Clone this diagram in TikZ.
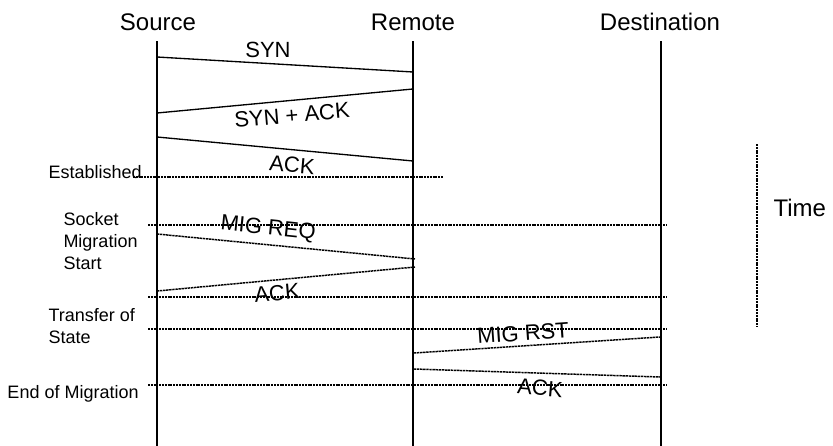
\documentclass[tikz,border=0pt]{standalone}
\usepackage{fontspec}
\setmainfont{Liberation Sans}

\tikzset{every picture/.style={line width=0.75pt}}
\tikzset{
  lifeline/.style={line width=1.5pt},
  msg/.style={line width=1pt},
  migmsg/.style={line width=1.1pt, dash pattern=on 1.8pt off 0.5pt},
  phase/.style={line width=1.5pt, dash pattern=on 1.5pt off 0.6pt},
  head/.style={font=\fontsize{18}{21}\selectfont, inner sep=0pt},
  msglabel/.style={font=\fontsize{16.5}{19}\selectfont, inner sep=0pt},
  sidelabel/.style={font=\fontsize{13.5}{16.5}\selectfont, align=left, inner sep=0pt},
}

\begin{document}
\begin{tikzpicture}[x=0.75pt,y=0.75pt,yscale=-1,xscale=1]
\useasboundingbox (0,0) rectangle (833,446);

% Text Node
\node[head] (src) at (158,22) {Source};
% Text Node
\node[head] (rem) at (413,22) {Remote};
% Text Node
\node[head] (dst) at (660,22) {Destination};

%Lifelines
\coordinate (srcTop) at (157,41);  \coordinate (srcBot) at (157,446);
\coordinate (remTop) at (413,41);  \coordinate (remBot) at (413,446);
\coordinate (dstTop) at (661,41);  \coordinate (dstBot) at (661,446);
\draw[lifeline] (srcTop) -- (srcBot);
\draw[lifeline] (remTop) -- (remBot);
\draw[lifeline] (dstTop) -- (dstBot);

%Straight Lines
\coordinate (synA) at (157,57);   \coordinate (synB) at (413,72);
\draw[msg] (synA) -- (synB);
%Straight Lines
\coordinate (saA) at (157,113);   \coordinate (saB) at (413,89);
\draw[msg] (saA) -- (saB);
%Straight Lines
\coordinate (ackA) at (157,137);  \coordinate (ackB) at (413,161);
\draw[msg] (ackA) -- (ackB);

%Straight Lines
\coordinate (mrA) at (157,234);   \coordinate (mrB) at (415,259);
\draw[migmsg] (mrA) -- (mrB);
%Straight Lines
\coordinate (mkA) at (157,291);   \coordinate (mkB) at (415,267);
\draw[migmsg] (mkA) -- (mkB);
%Straight Lines
\coordinate (rsA) at (414,353);   \coordinate (rsB) at (660,337);
\draw[migmsg] (rsA) -- (rsB);
%Straight Lines
\coordinate (rkA) at (414,369);   \coordinate (rkB) at (660,377);
\draw[migmsg] (rkA) -- (rkB);

%Phase lines
\coordinate (estA) at (133,177);  \coordinate (estB) at (443,177);
\draw[phase] (estA) -- (estB);
\coordinate (smsA) at (148,225);  \coordinate (smsB) at (667,225);
\draw[phase] (smsA) -- (smsB);
\coordinate (smeA) at (148,297);  \coordinate (smeB) at (667,297);
\draw[phase] (smeA) -- (smeB);
\coordinate (tosA) at (148,329);  \coordinate (tosB) at (667,329);
\draw[phase] (tosA) -- (tosB);
\coordinate (eomA) at (148,385);  \coordinate (eomB) at (667,385);
\draw[phase] (eomA) -- (eomB);

%Time axis
\coordinate (timeA) at (757,144); \coordinate (timeB) at (757,327);
\draw[phase] (timeA) -- (timeB);

% Text Node
\node[msglabel] (lsyn) at (268,50) {SYN};
% Text Node
\node[msglabel, rotate=5] (lsa) at (292,115) {SYN + ACK};
% Text Node
\node[msglabel, rotate=-5] (lack) at (292,165) {ACK};
% Text Node
\node[msglabel, rotate=-6] (lmr) at (268,229) {MIG REQ};
% Text Node
\node[msglabel, rotate=5] (lmk) at (277,293) {ACK};
% Text Node
\node[msglabel, rotate=4] (lrs) at (523,333) {MIG RST};
% Text Node
\node[msglabel, rotate=-5] (lrk) at (540,388) {ACK};

% Text Node
\node[sidelabel, anchor=west] (est) at (48,172) {Established};
% Text Node
\node[sidelabel, anchor=west] (sms) at (63,241) {Socket\\Migration\\Start};
% Text Node
\node[sidelabel, anchor=west] (tos) at (48,326) {Transfer of\\State};
% Text Node
\node[sidelabel, anchor=west] (eom) at (7,394) {End of Migration};
% Text Node
\node[head, anchor=west] (time) at (773,208) {Time};

\end{tikzpicture}
\end{document}
